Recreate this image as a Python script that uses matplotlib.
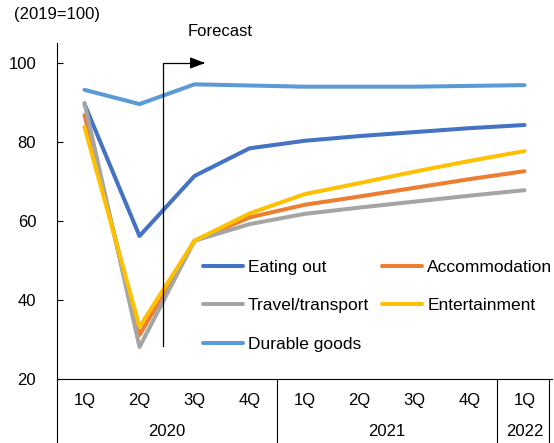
import matplotlib
matplotlib.use("Agg")
import matplotlib.pyplot as plt
import matplotlib.transforms as mtransforms

plt.rcParams['font.family'] = ['Liberation Sans', 'DejaVu Sans']

quarters = ["1Q", "2Q", "3Q", "4Q", "1Q", "2Q", "3Q", "4Q", "1Q"]
years = ["2020", "2021", "2022"]
year_spans = [(0, 4), (4, 8), (8, 9)]

eating_out = [89.6, 56.2, 71.4, 78.4, 80.3, 81.5, 82.5, 83.5, 84.3]
accommodation = [86.8, 31.1, 55.0, 60.9, 64.1, 66.2, 68.4, 70.6, 72.6]
travel = [89.9, 28.1, 55.0, 59.2, 61.8, 63.4, 64.9, 66.4, 67.8]
entertainment = [83.8, 33.2, 55.0, 61.9, 66.8, 69.6, 72.5, 75.2, 77.7]
durable = [93.2, 89.6, 94.6, 94.3, 94.0, 94.0, 94.0, 94.2, 94.4]

series = [
    ("Eating out", eating_out, "#4472C4"),
    ("Accommodation", accommodation, "#ED7D31"),
    ("Travel/transport", travel, "#A5A5A5"),
    ("Entertainment", entertainment, "#FFC000"),
    ("Durable goods", durable, "#5B9BD5"),
]

W, H = 554, 443
fig = plt.figure(figsize=(W / 100, H / 100), dpi=100)
ax = fig.add_axes([57 / W, 64 / H, 495 / W, 336 / H])

x = list(range(len(quarters)))
handles = {}
for name, vals, col in series:
    ln, = ax.plot(x, vals, color=col, lw=2.9, solid_capstyle='round', label=name)
    handles[name] = ln

ax.set_xlim(-0.5, 8.5)
ax.set_ylim(20, 105.06)
ax.set_yticks([20, 40, 60, 80, 100])
ax.tick_params(axis='y', direction='in', length=4, width=0.8, labelsize=12, pad=15, colors='black')
ax.set_xticks([])
for s in ['top', 'right']:
    ax.spines[s].set_visible(False)
ax.spines['left'].set_linewidth(0.8)
ax.spines['bottom'].set_linewidth(0.8)

trans = mtransforms.blended_transform_factory(ax.transData, ax.transAxes)
q_y = (379 - 401) / 336
y_y = (379 - 432) / 336
bot = (379 - 443) / 336
for i, q in enumerate(quarters):
    ax.text(i, q_y, q, transform=trans, ha='center', va='center', fontsize=12)
for yr, (a, b) in zip(years, year_spans):
    ax.text((a + b - 1) / 2, y_y, yr, transform=trans, ha='center', va='center', fontsize=12)
for xb in [-0.5, 3.5, 7.5, 8.45]:
    ax.plot([xb, xb], [0, bot], transform=trans, color='black', lw=0.8, clip_on=False)

# Forecast marker
fx, fx_end = 1.42, 2.24
ax.plot([fx, fx, fx_end - 0.1], [28.3, 100, 100], color='black', lw=0.9, clip_on=False)
ax.annotate('', xy=(fx_end, 100), xytext=(fx_end - 0.14, 100),
            arrowprops=dict(arrowstyle='-|>,head_length=0.9,head_width=0.35', color='black', lw=0.9),
            annotation_clip=False)
fig.text(220 / W, 1 - 31 / H, "Forecast", ha='center', va='center', fontsize=12)
fig.text(14 / W, 1 - 15 / H, "(2019=100)", ha='left', va='center', fontsize=12)

order = ["Eating out", "Travel/transport", "Durable goods", "Accommodation", "Entertainment"]
leg = fig.legend([handles[n] for n in order], order, ncol=2, frameon=False,
                 loc='upper left', bbox_to_anchor=(203 / W, 1 - 260 / H),
                 fontsize=12.5, handlelength=2.3, handletextpad=0.29,
                 columnspacing=0.75, labelspacing=1.33, borderpad=0, borderaxespad=0)

fig.savefig("out.png", dpi=100)
